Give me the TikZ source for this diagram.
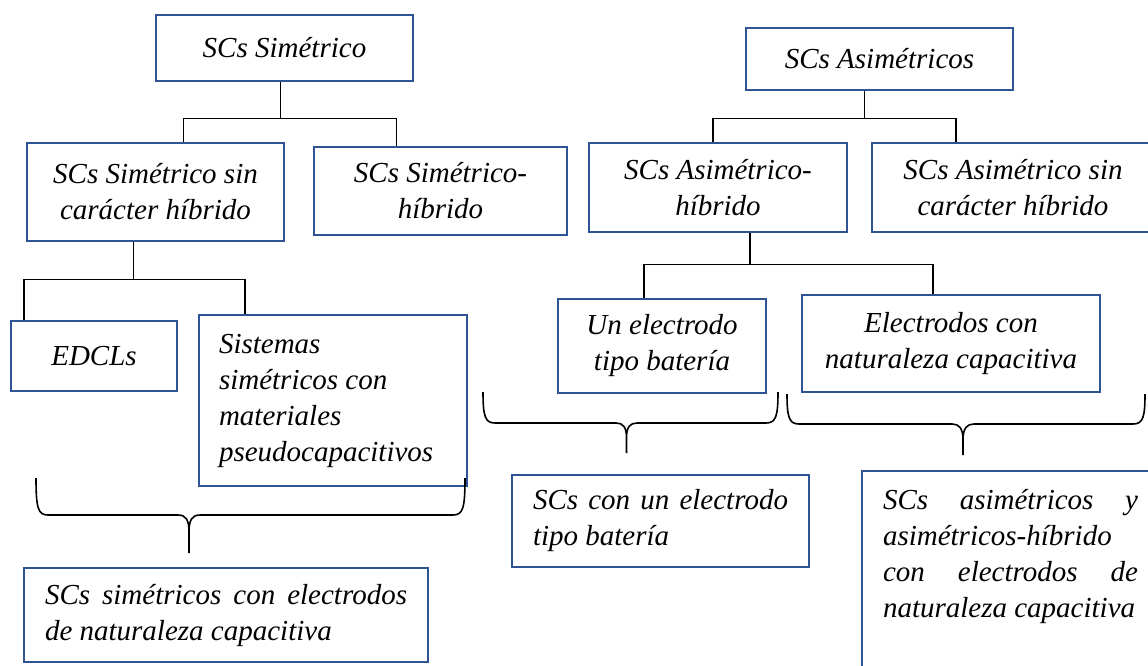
\documentclass[tikz,border=0pt]{standalone}
\usepackage{fontspec}
\setmainfont{Liberation Serif}
\usetikzlibrary{calc}
\definecolor{boxblue}{RGB}{47,84,150}
\tolerance=10000
\hyphenpenalty=10000

\begin{document}
\begin{tikzpicture}[x=1pt,y=-1pt,
  box/.style={draw=boxblue,line width=2.6pt,inner sep=0pt,align=center,
    font=\itshape\fontsize{29}{36}\selectfont},
  link/.style={line width=1.3pt},
  curly/.style={line width=1.6pt,line join=round}]
\useasboundingbox (0,0) rectangle (1148,665);

% simetricos
\node[box,minimum width=257,minimum height=66] (sim) at (284.5,48) {SCs Simétrico};
\node[box,minimum width=257,minimum height=98] (sinh) at (155.5,192) {SCs Simétrico sin\\carácter híbrido};
\node[box,minimum width=253,minimum height=88] (hib) at (440.5,191) {SCs Simétrico-\\híbrido};
\node[box,minimum width=166,minimum height=70] (edcl) at (94,356) {EDCLs};
\node[box,minimum width=268,minimum height=171,text width=228,align=flush left] (sist) at (333,400.5)
  {Sistemas\\simétricos con\\materiales\\pseudocapacitivos};
\node[box,minimum width=404,minimum height=94,text width=362,align=justify] (simcap) at (226,615)
  {SCs simétricos con electrodos de naturaleza capacitiva};

% asimetricos
\node[box,minimum width=267,minimum height=62] (asim) at (879.5,59) {SCs Asimétricos};
\node[box,minimum width=258,minimum height=89] (ahib) at (718,187.5) {SCs Asimétrico-\\híbrido};
\node[box,minimum width=282,minimum height=89] (asinh) at (1013,187.5) {SCs Asimétrico sin\\carácter híbrido};
\node[box,minimum width=208,minimum height=94] (bat) at (662,346) {Un electrodo\\tipo batería};
\node[box,minimum width=298,minimum height=97] (elec) at (951,343.5) {Electrodos con\\naturaleza capacitiva};
\node[box,minimum width=297,minimum height=92,text width=255,align=justify] (scbat) at (660.5,521)
  {SCs con un electrodo tipo batería};
\node[box,minimum width=297,minimum height=212,text width=255,align=justify] (asimcap) at (1010.5,577)
  {SCs asimétricos y\linebreak asimétricos-híbrido\\ con electrodos de naturaleza capacitiva\\ \strut};

% arbol
\draw[link] ($(sim.south)+(-4,0)$) -- ++(0,36) coordinate (j1);
\draw[link] ($(sinh.north)+(28,0)$) |- (j1) -| ($(hib.north)+(-44,0)$);
\draw[link] ($(asim.south)+(-15,0)$) -- ++(0,27) coordinate (j2);
\draw[link] ($(ahib.north)+(-5,0)$) |- (j2) -| ($(asinh.north)+(-57,0)$);
\draw[link] ($(sinh.south)+(-22,0)$) -- ++(0,37) coordinate (j3);
\draw[link] ($(edcl.north)+(-70,0)$) |- (j3) -| ($(sist.north)+(-88,0)$);
\draw[link] ($(ahib.south)+(32,0)$) -- ++(0,31) coordinate (j4);
\draw[link] ($(bat.north)+(-18,0)$) |- (j4) -| ($(elec.north)+(-18,0)$);

% llaves
\draw[curly] (36,478) .. controls (36,508) and (38,515) .. (48,515) -- (178,515)
    .. controls (186,515) and (189,520) .. (189,532) -- (189,553)
  (465,478) .. controls (465,508) and (463,515) .. (453,515) -- (200,515)
    .. controls (192,515) and (189,520) .. (189,532);
\draw[curly] (483,392) .. controls (483,416) and (485,423) .. (495,423) -- (616,423)
    .. controls (623,423) and (626.5,427) .. (626.5,438) -- (626.5,453)
  (778,392) .. controls (778,416) and (776,423) .. (766,423) -- (637,423)
    .. controls (630,423) and (626.5,427) .. (626.5,438);
\draw[curly] (787,394) .. controls (787,417) and (789,424) .. (799,424) -- (952,424)
    .. controls (959,424) and (963,428) .. (963,440) -- (963,455)
  (1145,394) .. controls (1145,417) and (1143,424) .. (1133,424) -- (974,424)
    .. controls (967,424) and (963,428) .. (963,440);
\end{tikzpicture}
\end{document}
